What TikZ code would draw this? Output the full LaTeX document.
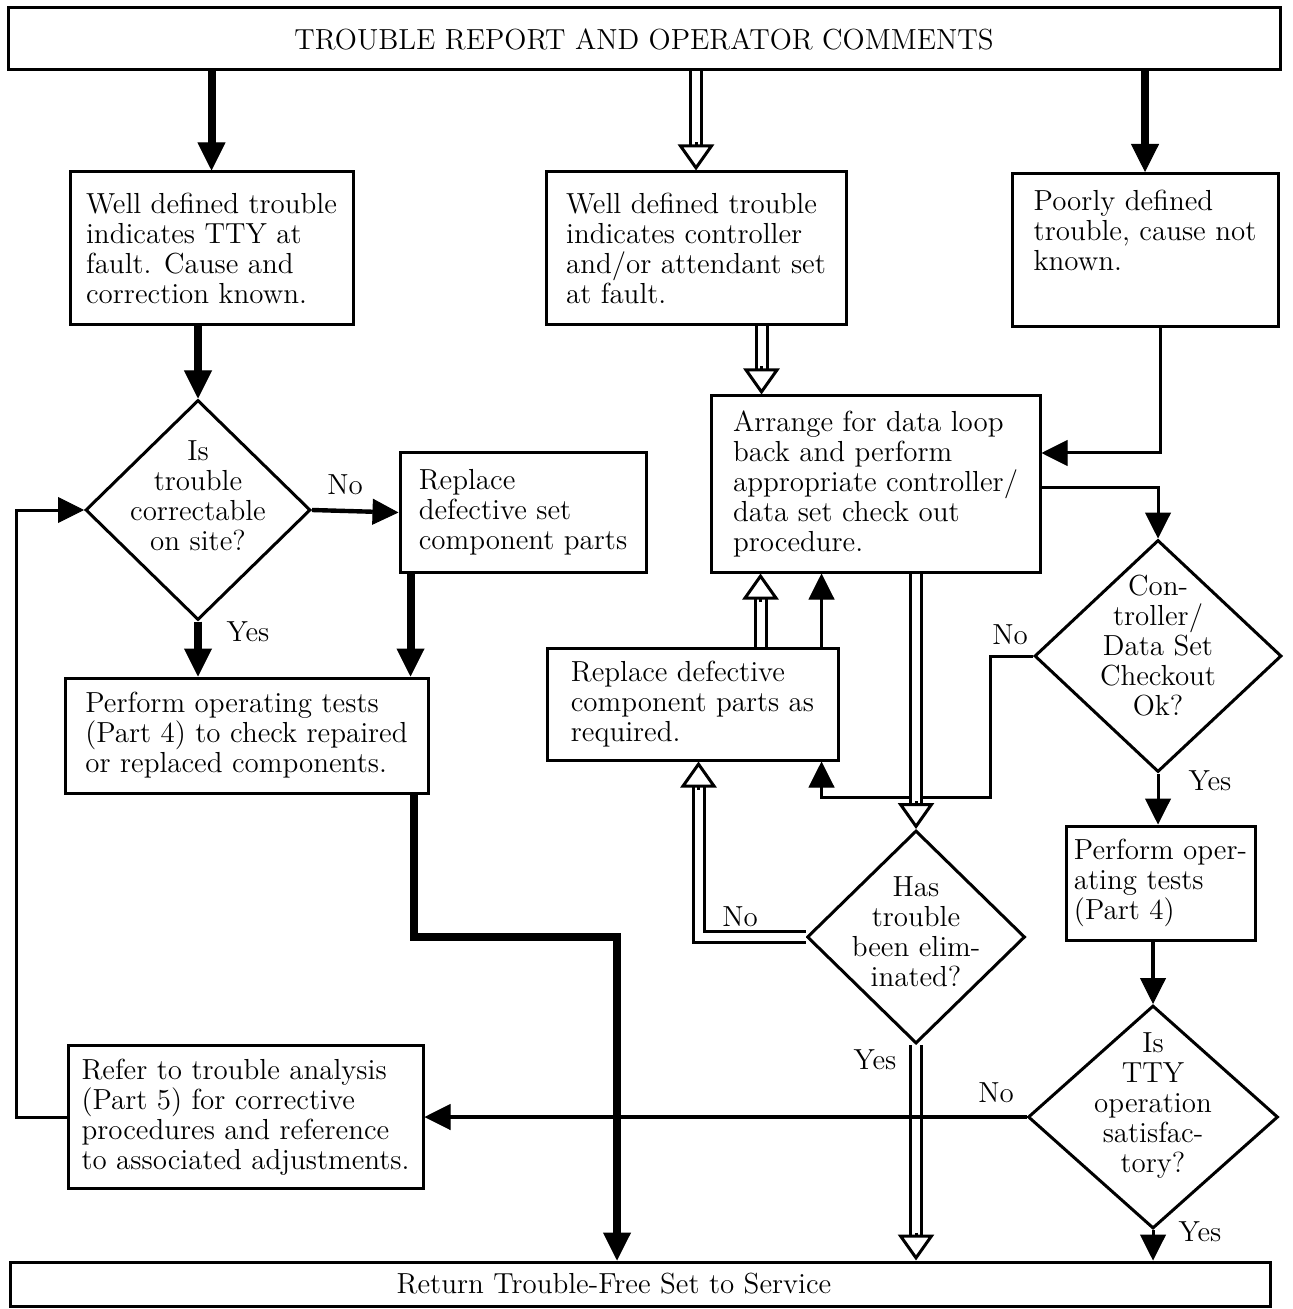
\documentclass[tikz,border=0pt]{standalone}
\usepackage{fontspec}
\usetikzlibrary{arrows.meta,shapes.geometric,calc}

\tikzset{
  box/.style={draw, line width=1.5pt, align=left, inner sep=0pt, font=\fontsize{14.5}{15}\selectfont},
  decision/.style={draw, diamond, line width=1.5pt, inner sep=0pt},
  dtext/.style={align=center, font=\fontsize{14.5}{15}\selectfont},
  lbl/.style={font=\fontsize{14.5}{15}\selectfont},
  heavy/.style={line width=4pt, -{Triangle[width=14pt,length=14pt,line width=0.5pt]}},
  mid/.style={line width=2.2pt, -{Triangle[width=13pt,length=13pt,line width=0.5pt]}},
  conn/.style={line width=1.5pt, -{Triangle[width=13pt,length=13pt,line width=0.5pt]}},
  hshaft/.style={draw, double, line width=1.5pt, double distance=4pt, shorten >=9pt},
  htip/.style={line width=1.5pt, -{Triangle[width=18pt,length=13pt,fill=white,line width=1.5pt]}}
}

\begin{document}
\begin{tikzpicture}[x=0.5pt,y=-0.5pt,line join=miter]
\useasboundingbox (0,0) rectangle (1292,1309);

% boxes
\node[box, minimum width=636pt, minimum height=31pt] (top) at (644,39) {TROUBLE REPORT AND OPERATOR COMMENTS};
\node[box, minimum width=630pt, minimum height=22pt] (bot) at (640,1284) {Return Trouble-Free Set to Service\hspace*{26pt}};

\node[box, minimum width=141.5pt, minimum height=76.5pt] (boxA) at (211.5,248.5) {Well defined trouble\\indicates TTY at\\fault. Cause and\\correction known.};
\node[box, minimum width=150pt, minimum height=76.5pt] (boxB) at (696,248.5) {Well defined trouble\\indicates controller\\and/or attendant set\\at fault.};
\node[box, minimum width=133pt, minimum height=76.5pt] (boxC) at (1145,250) {Poorly defined\\trouble, cause not\\known.\\\strut};

\node[box, minimum width=123pt, minimum height=59.5pt] (r1) at (523,512.5) {Replace\\defective set\\component parts};
\node[box, minimum width=181.5pt, minimum height=57.5pt] (p1) at (246.5,735.5) {Perform operating tests\\(Part 4) to check repaired\\or replaced components.};
\node[box, minimum width=177.5pt, minimum height=71.5pt] (refer) at (245.5,1117) {Refer to trouble analysis\\(Part 5) for corrective\\procedures and reference\\to associated adjustments.};

\node[box, minimum width=164.5pt, minimum height=88pt] (arrange) at (875.5,484) {Arrange for data loop\\back and perform\\appropriate controller/\\data set check out\\procedure.};
\node[box, minimum width=145.5pt, minimum height=56pt] (r2) at (692.5,704) {Replace defective\\component parts as\\required.};
\node[box, minimum width=94.5pt, minimum height=57pt] (po) at (1160.5,883) {Perform oper-\\ating tests\\(Part 4)};

% decisions
\node[decision, minimum width=112.5pt, minimum height=110pt] (d1) at (198,510) {};
\node[dtext] (t1) at ([yshift=7pt]d1.center) {Is\\trouble\\correctable\\on site?};
\node[decision, minimum width=123.5pt, minimum height=116pt] (d2) at (1158,656) {};
\node[dtext] (t2) at ([yshift=5pt]d2.center) {Con-\\troller/\\Data Set\\Checkout\\Ok?};
\node[decision, minimum width=109pt, minimum height=106.5pt] (d4) at (916,937) {};
\node[dtext] (t4) at ([yshift=2.5pt]d4.center) {Has\\trouble\\been elim-\\inated?};
\node[decision, minimum width=125pt, minimum height=111.5pt] (d3) at (1153,1117) {};
\node[dtext] (t3) at ([yshift=5.5pt]d3.center) {Is\\TTY\\operation\\satisfac-\\tory?};

% labels
\node[lbl] (no1) at (345,485) {No};
\node[lbl] (yes1) at (248,632) {Yes};
\node[lbl] (no2) at (1010,635) {No};
\node[lbl] (yes2) at (1210,781) {Yes};
\node[lbl] (no4) at (740,917) {No};
\node[lbl] (yes4) at (875,1060) {Yes};
\node[lbl] (no3) at (996,1093) {No};
\node[lbl] (yes3) at (1200,1232) {Yes};

\coordinate (k1) at (617,937);
\coordinate (k2) at (990,797);
\coordinate (e1) at ([xshift=107.5pt]r2.north west |- arrange.south);
\coordinate (e2) at ([xshift=76.5pt]r2.south west);
\coordinate (e3) at (d4.south |- bot.north);
\coordinate (e4) at ([xshift=26pt]arrange.north west);

% left side
\draw[heavy] (boxA.north |- top.south) -- (boxA.north);
\draw[heavy] (d1.north |- boxA.south) -- (d1.north);
\draw[mid] (d1.east) -- (r1.west);
\draw[heavy] (d1.south) -- (d1.south |- p1.north);
\draw[heavy] ([xshift=6pt]r1.south west) -- ([xshift=6pt]r1.south west |- p1.north);
\draw[heavy] ([xshift=-8pt]p1.south east) |- (k1) -- (k1 |- bot.north);
\draw[conn] (refer.west) -- ++(-25pt,0) |- (d1.west);

% middle and right
\draw[hshaft] (boxB.north |- top.south) -- (boxB.north);
\draw[htip] ([yshift=14pt]boxB.north) -- (boxB.north);
\draw[heavy] (boxC.north |- top.south) -- (boxC.north);
\draw[hshaft] (e4 |- boxB.south) -- (e4);
\draw[htip] ([yshift=14pt]e4) -- (e4);
\draw[conn] ([xshift=7.5pt]boxC.south) |- ([yshift=15.5pt]arrange.east);
\draw[conn] ([yshift=-2pt]arrange.east) -| (d2.north);
\draw[conn] (d2.west) -| (k2) -| ([xshift=-9pt]r2.south east);
\draw[hshaft] ([xshift=107.5pt]r2.north west) -- (e1);
\draw[htip] ([yshift=-14pt]e1) -- (e1);
\draw[conn] ([xshift=-9pt]r2.north east) -- ([xshift=-9pt]r2.north east |- arrange.south);
\draw[hshaft] (d4.north |- arrange.south) -- (d4.north);
\draw[htip] ([yshift=14pt]d4.north) -- (d4.north);
\draw[hshaft] (d4.west) -| (e2);
\draw[htip] ([yshift=-14pt]e2) -- (e2);
\draw[hshaft] (d4.south) -- (e3);
\draw[htip] ([yshift=14pt]e3) -- (e3);
\draw[conn] (d2.south) -- (d2.south |- po.north);
\draw[mid] (d3.north |- po.south) -- (d3.north);
\draw[conn] (d3.south) -- (d3.south |- bot.north);
\draw[mid] (d3.west) -- (refer.east);
\end{tikzpicture}
\end{document}
